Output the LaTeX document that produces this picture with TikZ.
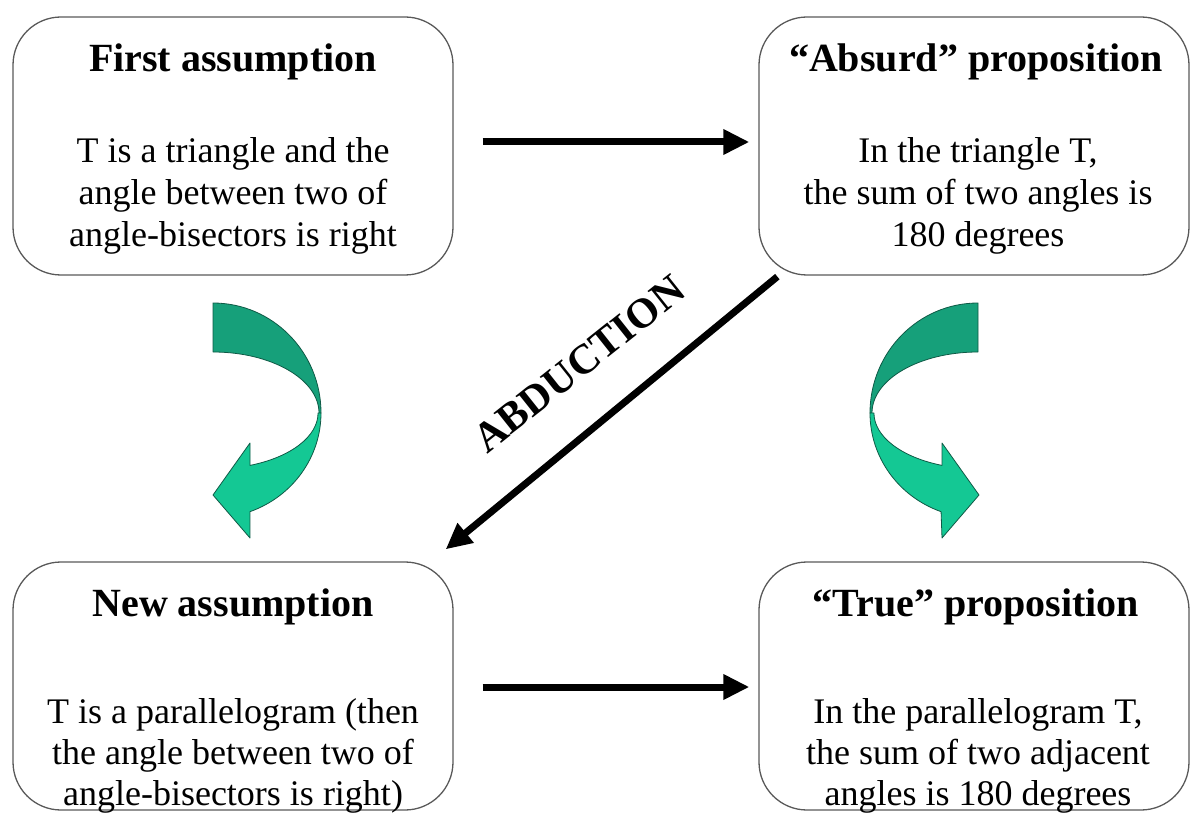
\documentclass[tikz,border=0pt]{standalone}
\usepackage{fontspec}
\setmainfont{Liberation Serif}
\usetikzlibrary{arrows.meta}
\definecolor{darkteal}{RGB}{22,160,122}
\definecolor{lightteal}{RGB}{20,200,148}
\definecolor{tealedge}{RGB}{15,90,70}
\begin{document}
\begin{tikzpicture}[x=1pt,y=-1pt,
  box/.style={draw=black!65, line width=1.3pt, rounded corners=48pt, inner sep=0pt, minimum width=#1},
  box/.default=440pt,
  titletext/.style={font=\fontsize{40}{48}\selectfont\bfseries, anchor=base, inner sep=0pt},
  bodytext/.style={font=\fontsize{36}{43}\selectfont, anchor=base, inner sep=0pt},
  bigarrow/.style={line width=7pt, -{Triangle[length=26pt,width=24pt]}},
  ribbondark/.style={fill=darkteal, draw=tealedge, line width=0.8pt, line join=round},
  ribbonlight/.style={fill=lightteal, draw=tealedge, line width=0.8pt, line join=round}]
\useasboundingbox (0,0) rectangle (1192,813);

% boxes
\node[box=440pt, minimum height=258pt] (tl) at (233,146) {};
\node[box=430pt, minimum height=258pt] (tr) at (974,146) {};
\node[box=440pt, minimum height=248pt] (bl) at (233,686) {};
\node[box=430pt, minimum height=248pt] (br) at (974,686) {};

% top-left text
\node[titletext] (tlh) at (233,72) {First assumption};
\node[bodytext] (tl1) at (233,163) {T is a triangle and the};
\node[bodytext] (tl2) at (233,205) {angle between two of};
\node[bodytext] (tl3) at (233,247) {angle-bisectors is right};

% top-right text
\node[titletext] (trh) at (976,72) {“Absurd” proposition};
\node[bodytext] (tr1) at (978,163) {In the triangle T,};
\node[bodytext] (tr2) at (978,205) {the sum of two angles is};
\node[bodytext] (tr3) at (978,247) {180 degrees};

% bottom-left text
\node[titletext] (blh) at (233,616) {New assumption};
\node[bodytext] (bl1) at (233,723) {T is a parallelogram (then};
\node[bodytext] (bl2) at (233,764) {the angle between two of};
\node[bodytext] (bl3) at (233,805) {angle-bisectors is right)};

% bottom-right text
\node[titletext] (brh) at (976,616) {“True” proposition};
\node[bodytext] (br1) at (978,723) {In the parallelogram T,};
\node[bodytext] (br2) at (978,764) {the sum of two adjacent};
\node[bodytext] (br3) at (978,805) {angles is 180 degrees};

% straight arrows
\draw[bigarrow, shorten <=29pt, shorten >=9pt] ([yshift=4pt]tl.east) -- ([yshift=4pt]tr.west);
\draw[bigarrow, shorten <=29pt, shorten >=9pt] ([yshift=-1pt]bl.east) -- ([yshift=-1pt]br.west);
\draw[bigarrow] ([xshift=19pt,yshift=-1pt]tr.south west) -- ([xshift=-8pt,yshift=12pt]bl.north east);

% label
\node[font=\fontsize{42}{50}\selectfont\bfseries, rotate=38.5, inner sep=0pt] (abd) at (579,364) {ABDUCTION};

% left curved ribbon arrow
\path[ribbondark] (213,303) arc[start angle=-90, end angle=0, x radius=108, y radius=110]
  -- (319,413) arc[start angle=0, end angle=-90, x radius=106, y radius=61] -- cycle;
\path[ribbonlight] (321,413) arc[start angle=0, end angle=70, x radius=108, y radius=105]
  -- (250,538) -- (213,495) -- (250,443) -- (250,465.4)
  arc[start angle=69.4, end angle=0, x radius=105, y radius=56] -- cycle;

% right curved ribbon arrow
\path[ribbondark] (978,303) arc[start angle=-90, end angle=-180, x radius=108, y radius=110]
  -- (872,413) arc[start angle=180, end angle=270, x radius=106, y radius=61] -- cycle;
\path[ribbonlight] (870,413) arc[start angle=180, end angle=110, x radius=108, y radius=105]
  -- (942,538) -- (979,495) -- (942,443) -- (942,465.4)
  arc[start angle=110.6, end angle=180, x radius=105, y radius=56] -- cycle;
\end{tikzpicture}
\end{document}
